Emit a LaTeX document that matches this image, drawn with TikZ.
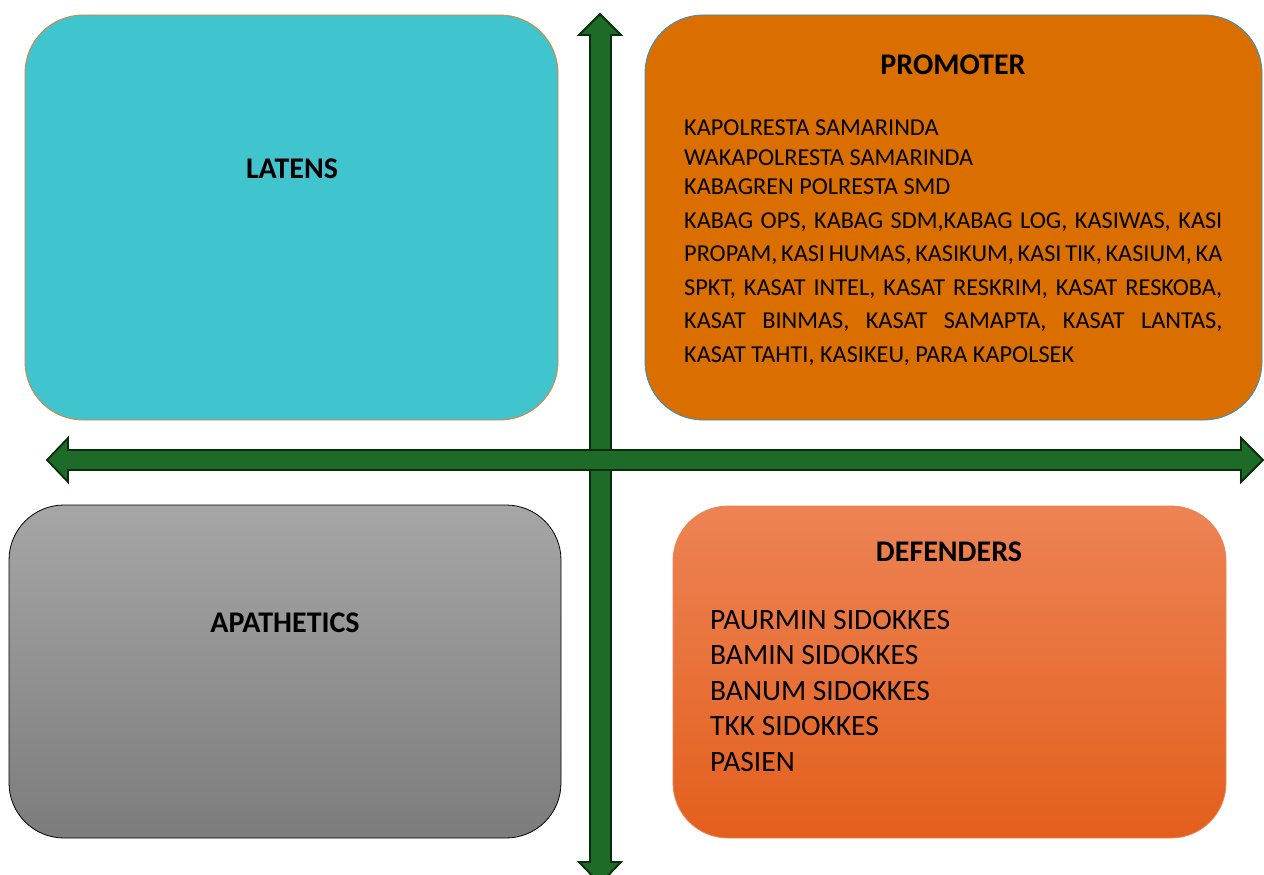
\documentclass[tikz,border=0pt]{standalone}
\usepackage{fontspec}
\setmainfont{Carlito}
\definecolor{tealbox}{RGB}{64,196,206}
\definecolor{promobox}{RGB}{218,111,0}
\definecolor{promoedge}{RGB}{30,150,215}
\definecolor{latedge}{RGB}{237,125,49}
\definecolor{graytop}{RGB}{166,166,166}
\definecolor{graybot}{RGB}{124,124,124}
\definecolor{deftop}{RGB}{237,131,85}
\definecolor{defbot}{RGB}{227,95,28}
\definecolor{arrowgreen}{RGB}{30,107,40}
\definecolor{arrowedge}{RGB}{8,45,12}
\begin{document}
\begin{tikzpicture}[x=1pt, y=-1pt,
    quadbox/.style={rounded corners=58pt, line width=.8pt},
    heading/.style={font=\fontsize{30}{34}\selectfont\bfseries},
    blockarrow/.style={fill=arrowgreen, draw=arrowedge, line width=1.8pt, line join=miter}]
\useasboundingbox (0,0) rectangle (1264,875);
\clip (0,0) rectangle (1264,875);

% quadrants
\draw[quadbox, fill=tealbox, draw=latedge] (25,15) rectangle (558,420);
\draw[quadbox, fill=promobox, draw=promoedge] (645,15) rectangle (1262,420);
\draw[quadbox, rounded corners=55pt, draw=black, top color=graytop, bottom color=graybot] (9,505) rectangle (561,838);
\draw[quadbox, rounded corners=55pt, draw=deftop, top color=deftop, bottom color=defbot] (673,506) rectangle (1226,838);

% axes
\draw[blockarrow] (600,14)--(621,35)--(611,35)--(611,862)--(621,862)--(600,884)
    --(579,862)--(590,862)--(590,35)--(579,35)--cycle;
\draw[blockarrow] (47,460)--(68,438)--(68,450)--(1241,450)--(1241,438)--(1263,460)
    --(1241,482)--(1241,470)--(68,470)--(68,482)--cycle;

% labels
\node[heading] (latens) at (292,169) {LATENS};
\node[heading] (promoter) at (953,65) {PROMOTER};
\node[heading] (apathetics) at (285,623) {APATHETICS};
\node[heading] (defenders) at (949,552) {DEFENDERS};

\node[anchor=north west, inner sep=0pt, text width=538pt, align=justify,
    font=\fontsize{24.3}{29.5}\selectfont] (promolist) at (684,120)
    {\parindent=0pt \spaceskip=.226em plus .4em minus .1em
     KAPOLRESTA SAMARINDA\par
     WAKAPOLRESTA SAMARINDA\par
     KABAGREN POLRESTA SMD\par
     \baselineskip=33.5pt
     KABAG OPS, KABAG SDM,KABAG LOG, KASIWAS, KASI\linebreak
     PROPAM, KASI HUMAS, KASIKUM, KASI TIK, KASIUM, KA\linebreak
     SPKT, KASAT INTEL, KASAT RESKRIM, KASAT RESKOBA,\linebreak
     KASAT BINMAS, KASAT SAMAPTA, KASAT LANTAS,\linebreak
     KASAT TAHTI, KASIKEU, PARA KAPOLSEK\par};

\node[anchor=north west, inner sep=0pt, align=left,
    font=\fontsize{29.5}{35.5}\selectfont] (deflist) at (710,610)
    {PAURMIN SIDOKKES\\ BAMIN SIDOKKES\\ BANUM SIDOKKES\\ TKK SIDOKKES\\ PASIEN};
\end{tikzpicture}
\end{document}
